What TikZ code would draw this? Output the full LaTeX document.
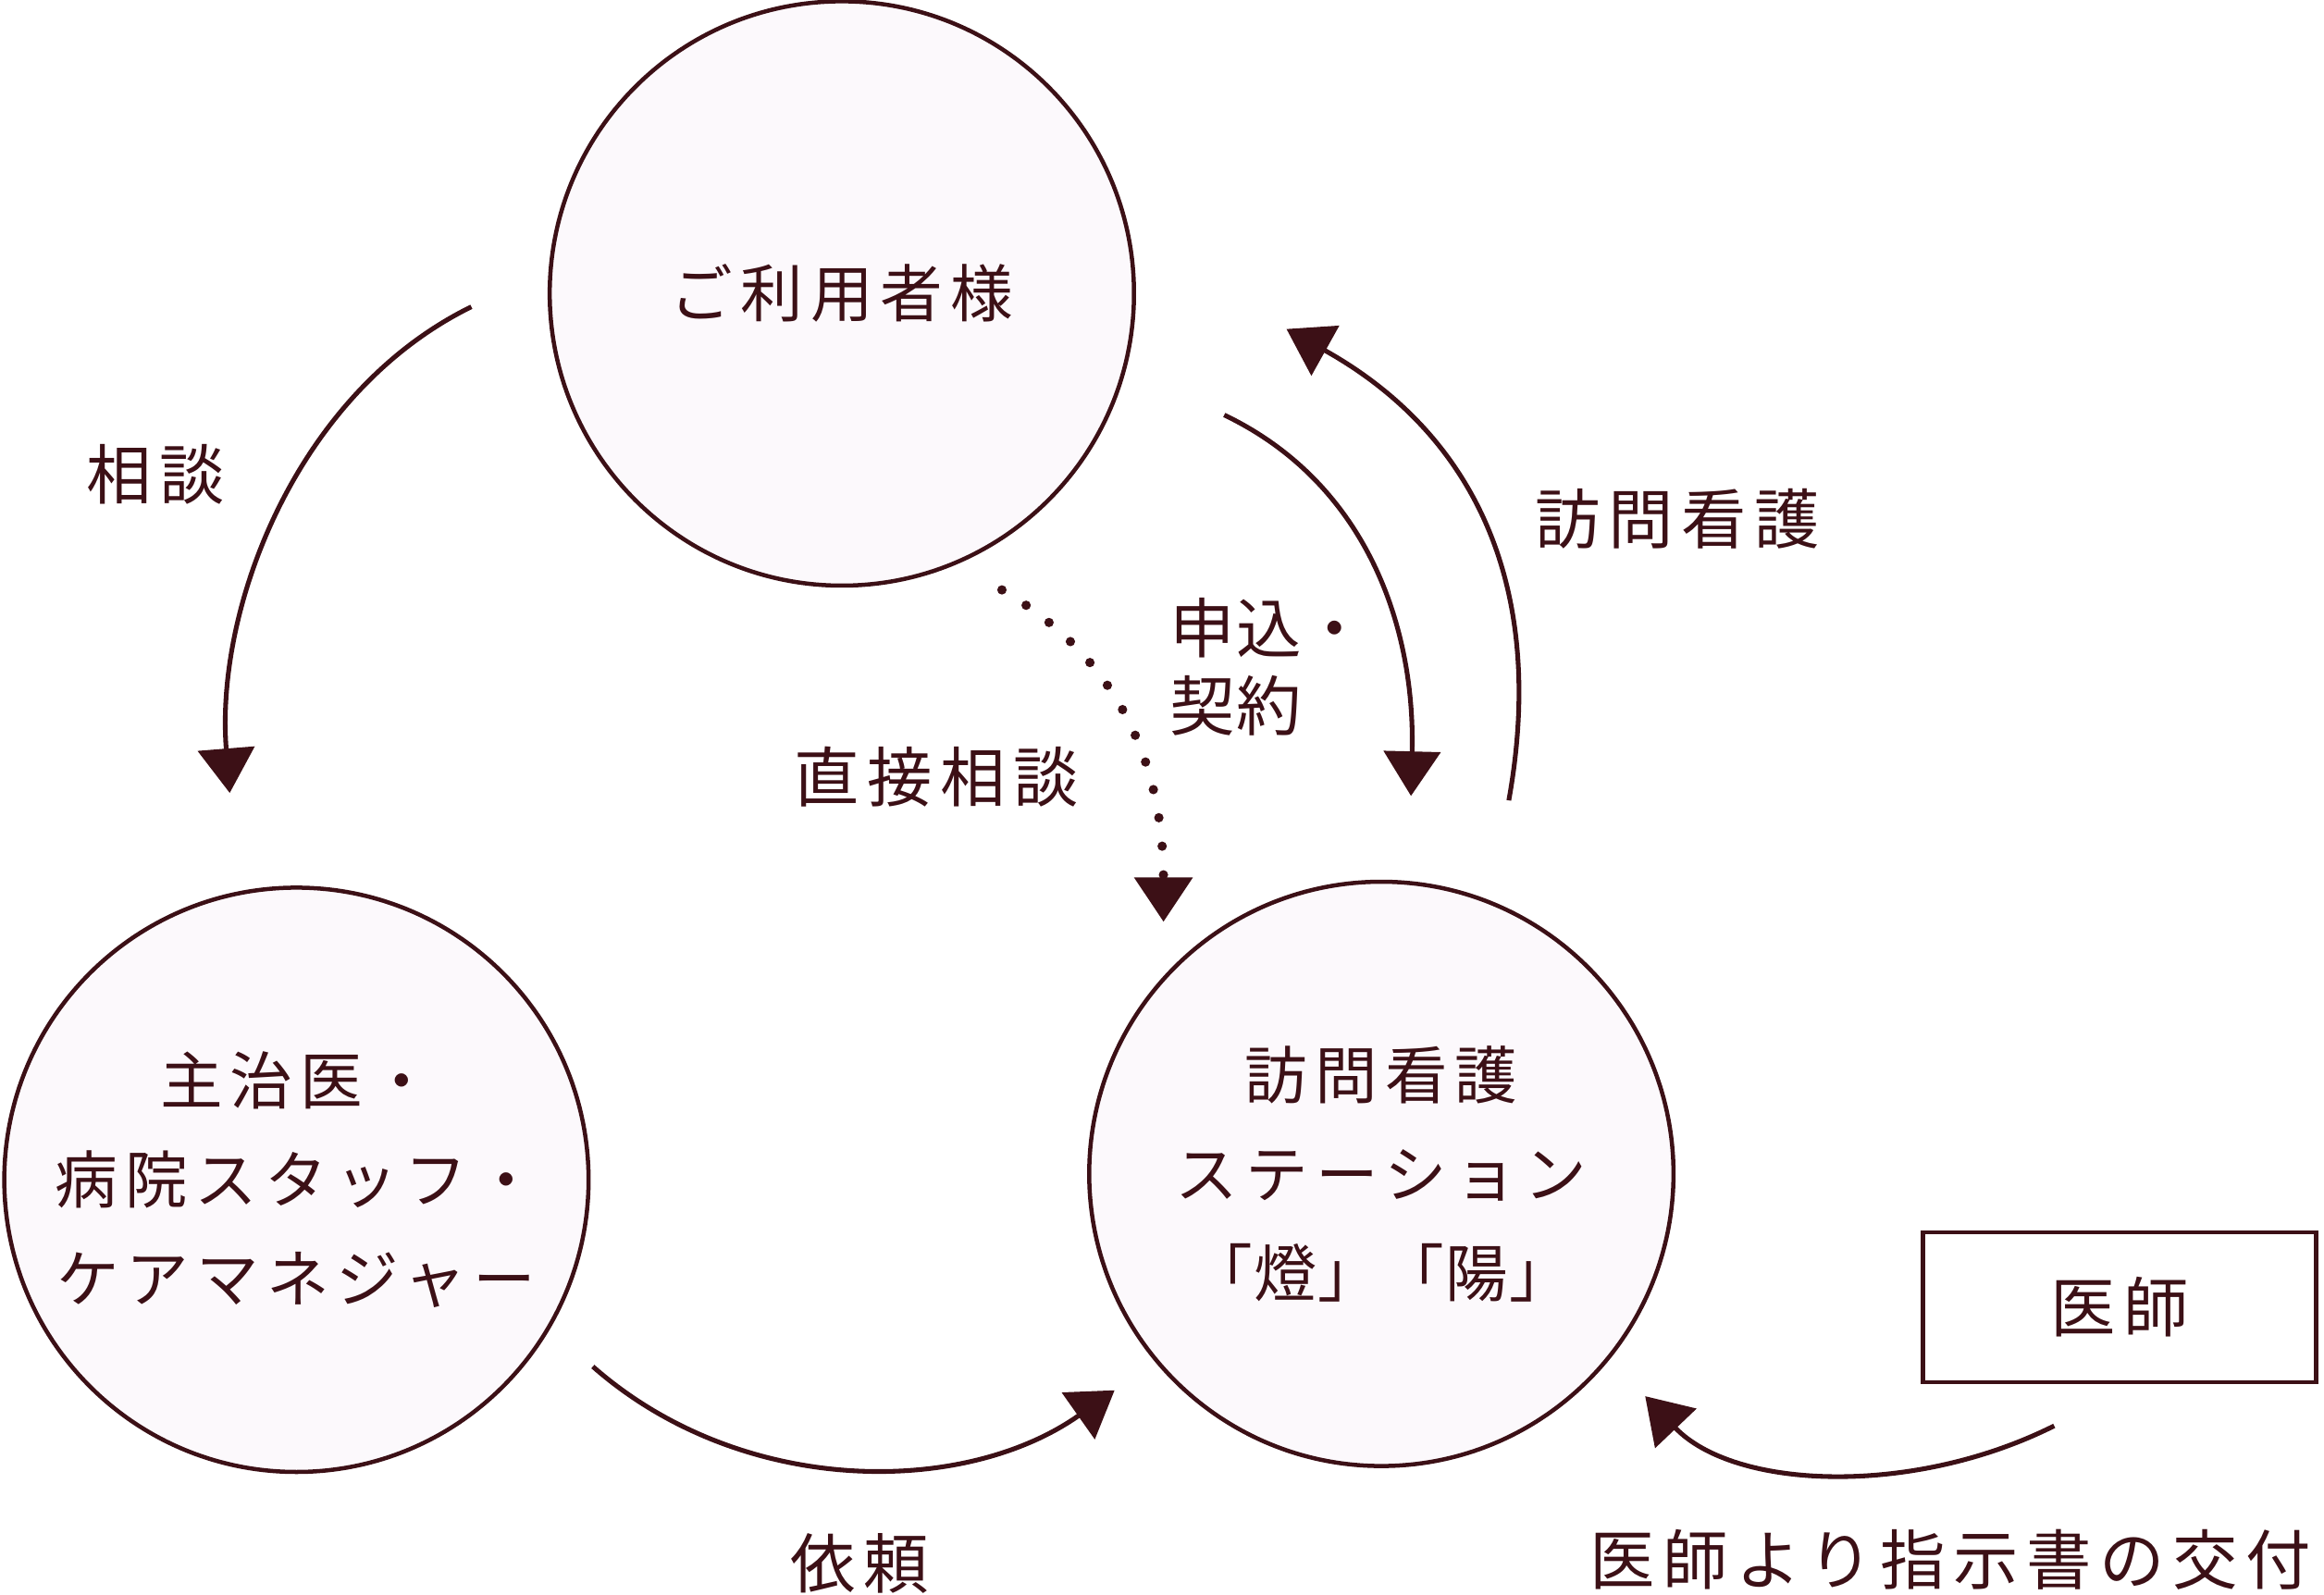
\documentclass[tikz,border=0pt]{standalone}
\usepackage{fontspec}
\setmainfont{Noto Sans CJK JP}
\newfontfamily\cjk[LetterSpace=12]{Noto Sans CJK JP}
\newfontfamily\cjkt[LetterSpace=2]{Noto Sans CJK JP}
\usetikzlibrary{arrows.meta}
\definecolor{ink}{HTML}{3C1016}
\definecolor{fillc}{HTML}{FCF9FC}
\begin{document}
\begin{tikzpicture}[x=0.01cm,y=-0.01cm,
  bub/.style={circle,draw=ink,fill=fillc,line width=0.8pt,minimum size=3.94cm,inner sep=0pt,align=center,text=ink,font=\cjk\fontsize{12pt}{19pt}\selectfont},
  lab/.style={text=ink,font=\cjk\fontsize{12.5pt}{15pt}\selectfont,align=center},
  arr/.style={draw=ink,line width=0.9pt,-{Triangle[width=0.38cm,length=0.3cm]}}]
\useasboundingbox (0,0) rectangle (1568,1076);
\node[bub] (u) at (568,198) {ご利用者様};
\node[bub] (d) at (200,796) {主治医・\\病院スタッフ・\\ケアマネジャー};
\node[bub] (s) at (932,792) {訪問看護\\ステーション\\{\cjkt「燈」「陽」}};
\node[draw=ink,line width=0.8pt,minimum width=2.65cm,minimum height=1.01cm,text=ink,font=\cjk\fontsize{12.5pt}{16pt}\selectfont] (ishi) at (1430,882) {医師};
\coordinate (a1) at (318,207); \coordinate (a2) at (155,535);
\coordinate (b1) at (826,280); \coordinate (b2) at (952,537);
\coordinate (c1) at (1018,540); \coordinate (c2) at (868,222);
\coordinate (d1) at (400,922); \coordinate (d2) at (752,938);
\coordinate (e1) at (1386,962); \coordinate (e2) at (1110,942);
\coordinate (f1) at (676,398); \coordinate (f2) at (785,622);
\draw[arr] (a1) .. controls (200,265) and (145,410) .. (a2);
\draw[arr] (b1) .. controls (920,325) and (955,420) .. (b2);
\draw[arr] (c1) .. controls (1045,390) and (990,290) .. (c2);
\draw[arr] (d1) .. controls (500,1010) and (650,1010) .. (d2);
\draw[arr] (e1) .. controls (1290,1010) and (1170,1005) .. (e2);
\draw[arr,line width=1.8pt,line cap=round,dash pattern=on 0pt off 5.5pt] (f1) .. controls (765,450) and (785,530) .. (f2);
\node[lab,align=left,font=\cjkt\fontsize{12.5pt}{15pt}\selectfont] (l3) at (856,450) {申込・\\契約};
\node[lab] (l1) at (105,320) {相談};
\node[lab] (l2) at (1132,350) {訪問看護};
\node[lab] (l4) at (632,524) {直接相談};
\node[lab] (l5) at (580,1055) {依頼};
\node[lab] (l6) at (1316,1052) {医師より指示書の交付};
\end{tikzpicture}
\end{document}
